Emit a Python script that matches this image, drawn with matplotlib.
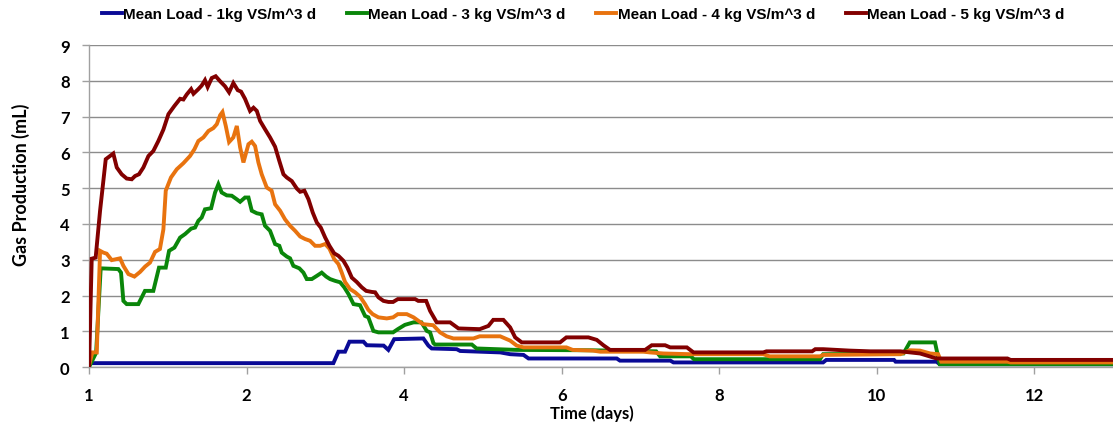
import matplotlib
matplotlib.use("Agg")
import matplotlib.pyplot as plt
from matplotlib.lines import Line2D

# Category-axis positions (one unit per labelled tick) and tick labels
tick_labels = ["1", "2", "4", "6", "8", "10", "12"]

series_names = ["Mean Load - 1kg VS/m^3 d", "Mean Load - 3 kg VS/m^3 d",
                "Mean Load - 4 kg VS/m^3 d", "Mean Load - 5 kg VS/m^3 d"]

load1_x = [0.0, 0.01, 1.551, 1.583, 1.625, 1.653, 1.742, 1.763, 1.87, 1.90, 1.937, 2.122,
           2.154, 2.175, 2.334, 2.356, 2.61, 2.673, 2.758, 2.79, 3.35, 3.37, 3.69, 3.71,
           4.66, 4.68, 5.11, 5.12, 5.38, 5.40, 6.5]
load1_y = [0.05, 0.11, 0.11, 0.43, 0.43, 0.71, 0.71, 0.61, 0.60, 0.48, 0.78, 0.80,
           0.60, 0.52, 0.50, 0.45, 0.41, 0.36, 0.34, 0.24, 0.24, 0.18, 0.18, 0.13,
           0.13, 0.20, 0.20, 0.15, 0.15, 0.08, 0.08]

load3_x = [0.0, 0.045, 0.074, 0.186, 0.203, 0.218, 0.239, 0.313, 0.355, 0.408, 0.444, 0.487,
           0.508, 0.542, 0.578, 0.61, 0.648, 0.673, 0.694, 0.715, 0.736, 0.775, 0.80, 0.821,
           0.842, 0.874, 0.906, 0.938, 0.959, 0.99, 1.012, 1.033, 1.065, 1.096, 1.117,
           1.149, 1.181, 1.208, 1.223, 1.255, 1.276, 1.297, 1.335, 1.361, 1.382, 1.414,
           1.446, 1.477, 1.505, 1.53, 1.562, 1.594, 1.62, 1.647, 1.679, 1.72, 1.752,
           1.773, 1.805, 1.837, 1.93, 1.96, 2.005, 2.06, 2.11, 2.144, 2.165, 2.186, 2.197,
           2.43, 2.46, 2.715, 3.18, 3.60, 3.625, 3.82, 3.84, 4.64, 4.66, 5.17, 5.21, 5.37,
           5.40, 6.5]
load3_y = [0.0, 0.4, 2.76, 2.74, 2.64, 1.85, 1.76, 1.76, 2.13, 2.13, 2.78, 2.78,
           3.25, 3.34, 3.62, 3.72, 3.87, 3.90, 4.09, 4.18, 4.41, 4.44, 4.88, 5.11,
           4.88, 4.80, 4.79, 4.69, 4.62, 4.74, 4.74, 4.37, 4.30, 4.27, 3.95,
           3.81, 3.44, 3.39, 3.20, 3.09, 3.04, 2.83, 2.76, 2.64, 2.46, 2.46,
           2.55, 2.64, 2.53, 2.46, 2.41, 2.37, 2.23, 2.04, 1.76, 1.73, 1.43,
           1.39, 1.01, 0.97, 0.97, 1.06, 1.18, 1.25, 1.25, 1.01, 0.97, 0.67, 0.63,
           0.63, 0.52, 0.48, 0.47, 0.44, 0.30, 0.30, 0.22, 0.22, 0.36, 0.38, 0.69, 0.69,
           0.08, 0.08]

load4_x = [0.0, 0.021, 0.049, 0.07, 0.091, 0.112, 0.144, 0.176, 0.197, 0.218, 0.25, 0.288,
           0.324, 0.356, 0.387, 0.419, 0.45, 0.472, 0.487, 0.52, 0.557, 0.599, 0.641,
           0.669, 0.694, 0.726, 0.758, 0.789, 0.811, 0.832, 0.847, 0.868, 0.889, 0.916,
           0.938, 0.959, 0.98, 1.012, 1.033, 1.054, 1.075, 1.096, 1.128, 1.159, 1.181,
           1.213, 1.244, 1.276, 1.308, 1.340, 1.371, 1.403, 1.435, 1.467, 1.499, 1.526,
           1.556, 1.583, 1.604, 1.625, 1.657, 1.689, 1.72, 1.752, 1.773, 1.80, 1.837,
           1.89, 1.93, 1.96, 2.017, 2.06, 2.12, 2.185, 2.228, 2.27, 2.313, 2.44, 2.48,
           2.61, 2.673, 2.715, 2.758, 3.03, 3.07, 3.20, 3.245, 3.52, 3.56, 3.646, 3.815,
           4.28, 4.32, 4.64, 4.66, 5.15, 5.21, 5.275, 5.34, 5.39, 5.41, 5.83, 5.85, 6.5]
load4_y = [0.04, 0.41, 0.41, 3.25, 3.20, 3.17, 2.99, 3.02, 3.04, 2.83, 2.60, 2.53,
           2.66, 2.81, 2.92, 3.22, 3.30, 3.85, 4.93, 5.30, 5.53, 5.70, 5.90,
           6.09, 6.32, 6.42, 6.60, 6.68, 6.79, 7.04, 7.13, 6.74, 6.29, 6.42,
           6.74, 6.14, 5.72, 6.23, 6.30, 6.18, 5.72, 5.39, 5.02, 4.93, 4.55,
           4.37, 4.13, 3.95, 3.81, 3.65, 3.58, 3.53, 3.39, 3.39, 3.44, 3.31,
           3.02, 2.88, 2.64, 2.38, 2.18, 2.09, 1.97, 1.76, 1.60, 1.48, 1.39,
           1.36, 1.39, 1.48, 1.48, 1.39, 1.20, 1.17, 0.97, 0.86, 0.80, 0.80, 0.86,
           0.86, 0.74, 0.60, 0.55, 0.55, 0.48, 0.46, 0.43, 0.43, 0.41, 0.38, 0.36,
           0.36, 0.30, 0.30, 0.34, 0.36, 0.47, 0.46, 0.38, 0.36, 0.15, 0.15, 0.13, 0.13]

load5_x = [0.0, 0.017, 0.042, 0.07, 0.106, 0.154, 0.176, 0.207, 0.239, 0.271, 0.292, 0.317,
           0.345, 0.377, 0.408, 0.44, 0.472, 0.504, 0.542, 0.578, 0.599, 0.62, 0.648,
           0.663, 0.694, 0.715, 0.736, 0.753, 0.779, 0.804, 0.832, 0.863, 0.889, 0.916,
           0.944, 0.965, 0.99, 1.022, 1.044, 1.065, 1.086, 1.117, 1.149, 1.181, 1.208,
           1.234, 1.255, 1.287, 1.319, 1.340, 1.367, 1.393, 1.420, 1.446, 1.471, 1.499,
           1.526, 1.556, 1.583, 1.615, 1.640, 1.668, 1.699, 1.731, 1.759, 1.795, 1.816,
           1.837, 1.869, 1.901, 1.93, 1.96, 2.07, 2.09, 2.14, 2.165, 2.207, 2.292, 2.345,
           2.48, 2.535, 2.566, 2.63, 2.673, 2.705, 2.747, 2.99, 3.03, 3.17, 3.223, 3.265,
           3.307, 3.53, 3.572, 3.657, 3.689, 3.795, 3.837, 4.28, 4.30, 4.59, 4.61, 4.66,
           4.83, 4.96, 5.15, 5.275, 5.38, 5.83, 5.85, 6.5]
load5_y = [0.0, 3.03, 3.06, 4.37, 5.81, 5.97, 5.58, 5.39, 5.27, 5.25, 5.34, 5.39,
           5.58, 5.90, 6.04, 6.32, 6.64, 7.07, 7.30, 7.50, 7.48, 7.62, 7.77,
           7.64, 7.77, 7.87, 8.02, 7.83, 8.08, 8.13, 7.99, 7.85, 7.68, 7.94,
           7.74, 7.70, 7.50, 7.16, 7.25, 7.16, 6.88, 6.65, 6.42, 6.16, 5.76,
           5.39, 5.30, 5.20, 4.99, 4.90, 4.93, 4.69, 4.32, 4.04, 3.90, 3.62,
           3.39, 3.18, 3.11, 2.97, 2.78, 2.50, 2.38, 2.23, 2.13, 2.10, 2.09,
           1.95, 1.85, 1.82, 1.82, 1.90, 1.90, 1.85, 1.85, 1.57, 1.25, 1.25, 1.08,
           1.06, 1.15, 1.32, 1.32, 1.11, 0.83, 0.69, 0.69, 0.83, 0.83, 0.76, 0.61,
           0.48, 0.48, 0.61, 0.61, 0.55, 0.55, 0.41, 0.41, 0.44, 0.44, 0.50, 0.50,
           0.46, 0.44, 0.44, 0.38, 0.24, 0.24, 0.20, 0.20]

colors = ["#0A0A96", "#0A860A", "#E8730F", "#820000"]

plt.rcParams['font.family'] = ['Lato', 'DejaVu Sans']

fig = plt.figure(figsize=(11.13, 4.27), dpi=100)
ax = fig.add_axes([0.080, 0.138, 0.920, 0.754])

all_x = [load1_x, load3_x, load4_x, load5_x]
all_y = [load1_y, load3_y, load4_y, load5_y]
for xs, ys, c, name in zip(all_x, all_y, colors, series_names):
    ax.plot(xs, ys, color=c, lw=2.8, label=name, solid_joinstyle='miter', zorder=3)

ax.set_xlim(0, 6.5)
ax.set_ylim(0, 9)
ax.set_yticks(range(0, 10))
ax.set_xticks(range(len(tick_labels)))
ax.set_xticklabels(tick_labels)
ax.grid(axis='y', color='#8C8C8C', lw=1.0, zorder=0)
for s in ['top', 'right']:
    ax.spines[s].set_visible(False)
for s in ['left', 'bottom']:
    ax.spines[s].set_color('#A0A0A0')
    ax.spines[s].set_linewidth(1.0)
ax.tick_params(axis='both', colors='#A0A0A0', length=5, width=1.0,
               labelcolor='black', labelsize=12)
for lab in ax.get_xticklabels() + ax.get_yticklabels():
    lab.set_fontweight('bold')
ax.tick_params(axis='x', pad=9)
ax.tick_params(axis='y', pad=9)

ax.set_xlabel("Time (days)", fontsize=12, fontweight='bold')
ax.set_ylabel("Gas Production (mL)", fontsize=13, fontweight='bold')
ax.xaxis.set_label_coords(0.491, -0.115)
ax.yaxis.set_label_coords(-0.058, 0.57)

handles = [Line2D([0], [0], color=c, lw=2.8) for c in colors]
leg = fig.legend(handles, series_names, loc='center', bbox_to_anchor=(0.524, 0.965),
                 ncol=4, frameon=False, handlelength=1.3, handletextpad=0.1,
                 columnspacing=2.0, prop={'family': 'Liberation Sans', 'weight': 'bold', 'size': 11})

fig.savefig("out.png", dpi=100)
